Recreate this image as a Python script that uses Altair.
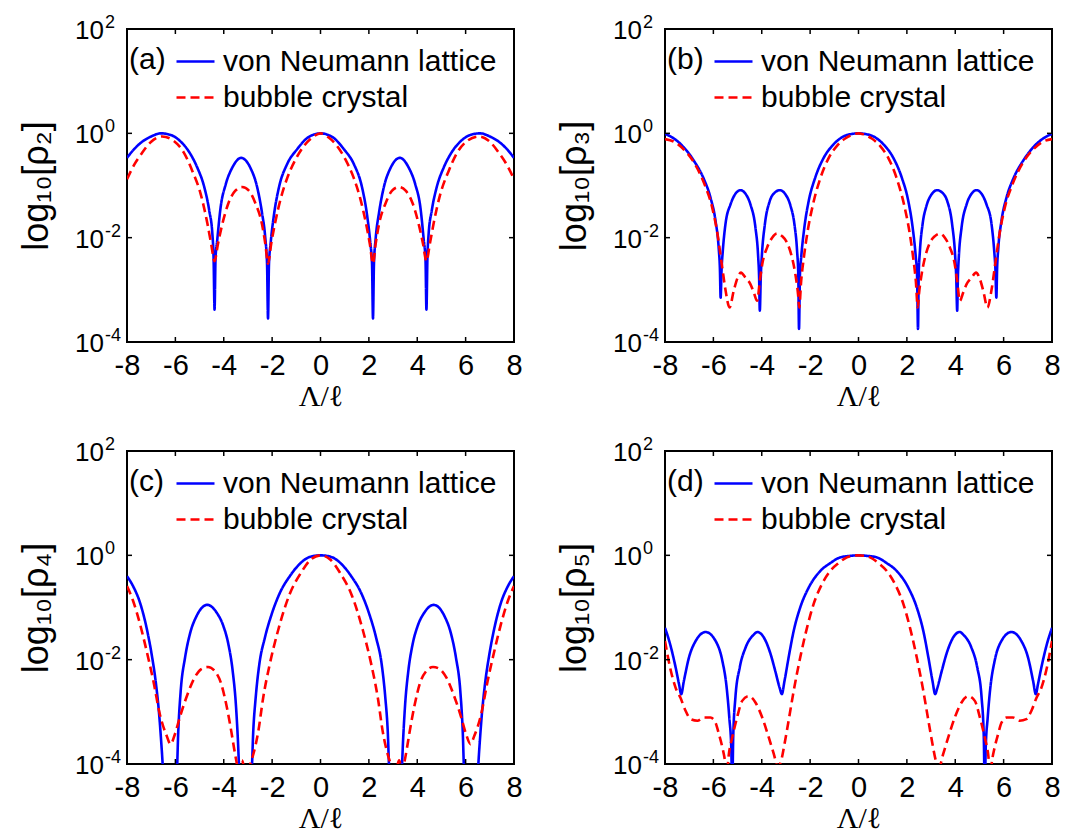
import altair as alt
import pandas as pd

# ---------------- data (log10 of rho) ----------------
SERIES = ["von Neumann lattice", "bubble crystal"]
COLORS = ["#0000ff", "#ff0000"]
DASHES = [[1, 0], [9, 5]]
PANEL_TAGS = ["(a)", "(b)", "(c)", "(d)"]
Y_TITLES = ["log₁₀[ρ₂]", "log₁₀[ρ₃]", "log₁₀[ρ₄]", "log₁₀[ρ₅]"]
X_TICKS = [-8, -6, -4, -2, 0, 2, 4, 6, 8]
Y_TICKS = [2, 0, -2, -4]
Y_BASE = ["10", "10", "10", "10"]
Y_EXP = ["2", "0", "-2", "-4"]

# panel (a)
XA_VN = [-8.00, -7.70, -7.40, -7.00, -6.60, -6.20, -5.80, -5.40, -5.10, -4.80, -4.60, -4.47, -4.42, -4.38, -4.34, -4.27, -4.13, -3.92, -3.65, -3.28, -2.90, -2.62, -2.42, -2.28, -2.21, -2.17, -2.13, -2.06, -1.92, -1.72, -1.38, -0.96, -0.55, -0.25, 0.00,
         0.25, 0.55, 0.96, 1.38, 1.72, 1.92, 2.06, 2.13, 2.17, 2.21, 2.28, 2.42, 2.62, 2.90, 3.28, 3.65, 3.92, 4.13, 4.27, 4.34, 4.38, 4.42, 4.47, 4.60, 4.80, 5.10, 5.40, 5.80, 6.20, 6.60, 7.00, 7.40, 7.70, 8.00]
YA_VN = [-0.47, -0.30, -0.17, -0.06, 0.00, -0.03, -0.15, -0.38, -0.65, -1.04, -1.48, -1.93, -2.40, -3.38, -2.40, -2.05, -1.42, -0.98, -0.66, -0.47, -0.66, -1.03, -1.52, -2.02, -2.50, -3.55, -2.50, -2.10, -1.55, -1.04, -0.59, -0.30, -0.09, -0.02, 0.00,
         -0.02, -0.09, -0.30, -0.59, -1.04, -1.55, -2.10, -2.50, -3.55, -2.50, -2.02, -1.52, -1.03, -0.66, -0.47, -0.66, -0.98, -1.42, -2.05, -2.40, -3.38, -2.40, -1.93, -1.48, -1.04, -0.65, -0.38, -0.15, -0.03, 0.00, -0.06, -0.17, -0.30, -0.47]
XA_BC = [-8.00, -7.70, -7.40, -7.00, -6.55, -6.05, -5.65, -5.30, -4.95, -4.68, -4.52, -4.38, -4.24, -4.06, -3.80, -3.52, -3.24, -2.96, -2.70, -2.42, -2.28, -2.17, -2.04, -1.86, -1.65, -1.37, -1.03, -0.68, -0.34, 0.00,
         0.34, 0.68, 1.03, 1.37, 1.65, 1.86, 2.04, 2.17, 2.28, 2.42, 2.70, 2.96, 3.24, 3.52, 3.80, 4.06, 4.24, 4.38, 4.52, 4.68, 4.95, 5.30, 5.65, 6.05, 6.55, 7.00, 7.40, 7.70, 8.00]
YA_BC = [-0.88, -0.60, -0.39, -0.16, -0.06, -0.15, -0.37, -0.72, -1.17, -1.72, -2.12, -2.45, -2.12, -1.74, -1.33, -1.10, -1.03, -1.10, -1.33, -1.74, -2.12, -2.50, -2.12, -1.68, -1.26, -0.85, -0.50, -0.24, -0.08, 0.00,
         -0.08, -0.24, -0.50, -0.85, -1.26, -1.68, -2.12, -2.50, -2.12, -1.74, -1.33, -1.10, -1.03, -1.10, -1.33, -1.74, -2.12, -2.45, -2.12, -1.72, -1.17, -0.72, -0.37, -0.15, -0.06, -0.16, -0.39, -0.60, -0.88]

# panel (b)
XB_VN = [-8.00, -7.63, -7.22, -6.80, -6.39, -6.12, -5.91, -5.78, -5.73, -5.70, -5.66, -5.61, -5.50, -5.29, -5.09, -4.88, -4.67, -4.47, -4.26, -4.15, -4.11, -4.08, -4.04, -4.00, -3.87, -3.67, -3.47, -3.25, -3.02, -2.81, -2.65, -2.54, -2.49, -2.46, -2.42, -2.37, -2.24, -2.06, -1.79, -1.44, -1.03, -0.62, -0.25, 0.00,
         0.25, 0.62, 1.03, 1.44, 1.79, 2.06, 2.24, 2.37, 2.42, 2.46, 2.49, 2.54, 2.65, 2.81, 3.02, 3.25, 3.47, 3.67, 3.87, 4.00, 4.04, 4.08, 4.11, 4.15, 4.26, 4.47, 4.67, 4.88, 5.09, 5.29, 5.50, 5.61, 5.66, 5.70, 5.73, 5.78, 5.91, 6.12, 6.39, 6.80, 7.22, 7.63, 8.00]
YB_VN = [-0.01, -0.10, -0.27, -0.53, -0.88, -1.23, -1.68, -2.20, -2.60, -3.15, -2.60, -2.25, -1.74, -1.36, -1.16, -1.09, -1.16, -1.36, -1.81, -2.35, -2.75, -3.40, -2.75, -2.38, -1.74, -1.30, -1.14, -1.09, -1.17, -1.39, -1.74, -2.25, -2.70, -3.75, -2.70, -2.38, -1.81, -1.30, -0.85, -0.47, -0.21, -0.06, -0.01, 0.00,
         -0.01, -0.06, -0.21, -0.47, -0.85, -1.30, -1.81, -2.38, -2.70, -3.75, -2.70, -2.25, -1.74, -1.39, -1.17, -1.09, -1.14, -1.30, -1.74, -2.38, -2.75, -3.40, -2.75, -2.35, -1.81, -1.36, -1.16, -1.09, -1.16, -1.36, -1.74, -2.25, -2.60, -3.15, -2.60, -2.20, -1.68, -1.23, -0.88, -0.53, -0.27, -0.10, -0.01]
XB_BC = [-8.00, -7.63, -7.22, -6.80, -6.39, -6.05, -5.84, -5.64, -5.50, -5.33, -5.16, -5.00, -4.86, -4.67, -4.47, -4.33, -4.19, -4.08, -3.98, -3.78, -3.57, -3.37, -3.16, -2.96, -2.75, -2.61, -2.50, -2.45, -2.37, -2.26, -2.10, -1.88, -1.57, -1.23, -0.89, -0.55, -0.21, 0.00,
         0.21, 0.55, 0.89, 1.23, 1.57, 1.88, 2.10, 2.26, 2.37, 2.45, 2.50, 2.61, 2.75, 2.96, 3.16, 3.37, 3.57, 3.78, 3.98, 4.08, 4.19, 4.33, 4.47, 4.67, 4.86, 5.00, 5.16, 5.33, 5.50, 5.64, 5.84, 6.05, 6.39, 6.80, 7.22, 7.63, 8.00]
YB_BC = [-0.11, -0.16, -0.31, -0.56, -0.95, -1.42, -1.90, -2.55, -3.00, -3.34, -3.02, -2.77, -2.67, -2.77, -2.89, -3.05, -3.21, -2.83, -2.51, -2.19, -2.00, -1.92, -1.97, -2.09, -2.38, -2.70, -3.08, -3.34, -2.83, -2.38, -1.87, -1.36, -0.85, -0.47, -0.24, -0.10, -0.02, 0.00,
         -0.02, -0.10, -0.24, -0.47, -0.85, -1.36, -1.87, -2.38, -2.83, -3.34, -3.08, -2.70, -2.38, -2.09, -1.97, -1.92, -2.00, -2.19, -2.51, -2.83, -3.21, -3.05, -2.89, -2.77, -2.67, -2.77, -3.02, -3.34, -3.00, -2.55, -1.90, -1.42, -0.95, -0.56, -0.31, -0.16, -0.11]

# panel (c)
XC_VN = [-8.00, -7.75, -7.46, -7.19, -6.98, -6.80, -6.66, -6.57, -6.45, -6.20, -5.95, -5.88, -5.78, -5.60, -5.40, -5.12, -4.68, -4.29, -4.02, -3.81, -3.63, -3.50, -3.42, -3.35, -3.10, -2.85, -2.78, -2.68, -2.53, -2.30, -2.02, -1.68, -1.27, -0.85, -0.44, 0.00,
         0.44, 0.85, 1.27, 1.68, 2.02, 2.30, 2.53, 2.68, 2.78, 2.85, 3.10, 3.35, 3.42, 3.50, 3.63, 3.81, 4.02, 4.29, 4.68, 5.12, 5.40, 5.60, 5.78, 5.88, 5.95, 6.20, 6.45, 6.57, 6.66, 6.80, 6.98, 7.19, 7.46, 7.75, 8.00]
YC_VN = [-0.40, -0.59, -0.91, -1.39, -1.90, -2.47, -3.11, -3.68, -4.50, -5.00, -4.30, -3.37, -2.60, -1.96, -1.51, -1.16, -0.95, -1.10, -1.35, -1.70, -2.22, -2.85, -3.49, -4.20, -5.00, -4.20, -3.37, -2.73, -2.09, -1.58, -1.13, -0.72, -0.40, -0.16, -0.03, 0.00,
         -0.03, -0.16, -0.40, -0.72, -1.13, -1.58, -2.09, -2.73, -3.37, -4.20, -5.00, -4.20, -3.49, -2.85, -2.22, -1.70, -1.35, -1.10, -0.95, -1.16, -1.51, -1.96, -2.60, -3.37, -4.30, -5.00, -4.50, -3.68, -3.11, -2.47, -1.90, -1.39, -0.91, -0.59, -0.40]
XC_BC = [-8.00, -7.75, -7.46, -7.19, -6.91, -6.64, -6.36, -6.20, -6.02, -5.82, -5.55, -5.20, -4.93, -4.65, -4.37, -4.10, -3.90, -3.69, -3.58, -3.48, -3.38, -3.25, -3.10, -2.95, -2.80, -2.57, -2.37, -2.10, -1.76, -1.28, -0.80, -0.40, 0.00,
         0.40, 0.80, 1.28, 1.76, 2.10, 2.37, 2.57, 2.80, 2.95, 3.10, 3.25, 3.38, 3.48, 3.58, 3.69, 3.90, 4.10, 4.37, 4.65, 4.93, 5.20, 5.55, 5.82, 6.02, 6.20, 6.36, 6.64, 6.91, 7.19, 7.46, 7.75, 8.00]
YC_BC = [-0.59, -0.87, -1.32, -1.83, -2.41, -3.05, -3.46, -3.62, -3.43, -3.11, -2.73, -2.34, -2.18, -2.14, -2.22, -2.47, -2.85, -3.37, -3.68, -3.94, -4.15, -3.93, -4.15, -4.05, -3.85, -3.37, -2.73, -2.09, -1.45, -0.75, -0.33, -0.08, 0.00,
         -0.08, -0.33, -0.75, -1.45, -2.09, -2.73, -3.37, -3.85, -4.05, -4.15, -3.93, -4.15, -3.94, -3.68, -3.37, -2.85, -2.47, -2.22, -2.14, -2.18, -2.34, -2.73, -3.11, -3.43, -3.62, -3.46, -3.05, -2.41, -1.83, -1.32, -0.87, -0.59]

# panel (d)
XD_VN = [-8.00, -7.79, -7.56, -7.42, -7.33, -7.22, -7.01, -6.73, -6.32, -5.91, -5.63, -5.45, -5.34, -5.26, -5.22, -5.18, -5.09, -4.91, -4.67, -4.33, -4.19, -3.92, -3.65, -3.44, -3.26, -3.17, -3.06, -2.89, -2.68, -2.41, -2.06, -1.58, -1.17, -0.76, -0.34, 0.00,
         0.34, 0.76, 1.17, 1.58, 2.06, 2.41, 2.68, 2.89, 3.06, 3.17, 3.26, 3.44, 3.65, 3.92, 4.19, 4.33, 4.67, 4.91, 5.09, 5.18, 5.22, 5.26, 5.34, 5.45, 5.63, 5.91, 6.32, 6.73, 7.01, 7.22, 7.33, 7.42, 7.56, 7.79, 8.00]
YD_VN = [-1.39, -1.70, -2.15, -2.47, -2.66, -2.41, -1.96, -1.64, -1.47, -1.64, -2.02, -2.54, -3.12, -3.69, -4.50, -3.49, -2.73, -2.15, -1.77, -1.52, -1.47, -1.57, -1.87, -2.22, -2.54, -2.66, -2.41, -1.96, -1.45, -1.00, -0.62, -0.30, -0.15, -0.04, -0.01, 0.00,
         -0.01, -0.04, -0.15, -0.30, -0.62, -1.00, -1.45, -1.96, -2.41, -2.66, -2.54, -2.22, -1.87, -1.57, -1.47, -1.52, -1.77, -2.15, -2.73, -3.49, -4.50, -3.69, -3.12, -2.54, -2.02, -1.64, -1.47, -1.64, -1.96, -2.41, -2.66, -2.47, -2.15, -1.70, -1.39]
XD_BC = [-8.00, -7.79, -7.56, -7.36, -7.15, -6.94, -6.66, -6.39, -6.12, -5.91, -5.77, -5.63, -5.52, -5.45, -5.36, -5.22, -5.02, -4.81, -4.54, -4.26, -3.98, -3.71, -3.50, -3.34, -3.20, -3.06, -2.89, -2.68, -2.41, -2.13, -1.86, -1.52, -1.17, -0.83, -0.48, -0.27, 0.00,
         0.27, 0.48, 0.83, 1.17, 1.52, 1.86, 2.13, 2.41, 2.68, 2.89, 3.06, 3.20, 3.34, 3.50, 3.71, 3.98, 4.26, 4.54, 4.81, 5.02, 5.22, 5.36, 5.45, 5.52, 5.63, 5.77, 5.91, 6.12, 6.39, 6.66, 6.94, 7.15, 7.36, 7.56, 7.79, 8.00]
YD_BC = [-1.64, -2.15, -2.54, -2.73, -2.98, -3.14, -3.17, -3.11, -3.11, -3.21, -3.43, -3.68, -3.94, -4.20, -3.81, -3.49, -3.11, -2.79, -2.70, -2.82, -3.11, -3.49, -3.81, -4.05, -3.94, -3.62, -3.17, -2.60, -1.96, -1.39, -0.94, -0.56, -0.30, -0.15, -0.04, -0.01, 0.00,
         -0.01, -0.04, -0.15, -0.30, -0.56, -0.94, -1.39, -1.96, -2.60, -3.17, -3.62, -3.94, -4.05, -3.81, -3.49, -3.11, -2.82, -2.70, -2.79, -3.11, -3.49, -3.81, -4.20, -3.94, -3.68, -3.43, -3.21, -3.11, -3.11, -3.17, -3.14, -2.98, -2.73, -2.54, -2.15, -1.64]

PANELS = [
    (XA_VN, YA_VN, XA_BC, YA_BC),
    (XB_VN, YB_VN, XB_BC, YB_BC),
    (XC_VN, YC_VN, XC_BC, YC_BC),
    (XD_VN, YD_VN, XD_BC, YD_BC),
]

# ---------------- styling ----------------
FONT = "Liberation Sans"
SERIF = "Liberation Serif"
W, H = 387, 313
TICK_LEN = 5


def build_panel(k):
    xv, yv, xb, yb = PANELS[k]
    df = pd.DataFrame({
        "x": xv + xb,
        "y": yv + yb,
        "series": [SERIES[0]] * len(xv) + [SERIES[1]] * len(xb),
    })
    xscale = alt.Scale(domain=[-8, 8], nice=False, zero=False)
    yscale = alt.Scale(domain=[-4, 2], nice=False, zero=False)

    xaxis = alt.Axis(
        values=X_TICKS,
        labelExpr="(datum.value < 0 ? '-' : '') + abs(datum.value)",
        labelFont=FONT, labelFontSize=29, labelColor="black", labelPadding=9,
        labelFlush=False, labelOverlap=False,
        ticks=False, tickSize=0, domain=False, grid=False,
        title="Λ/ℓ", titleFont=SERIF, titleFontSize=30, titleFontWeight="normal",
        titleColor="black", titlePadding=1,
    )
    yaxis = alt.Axis(
        values=Y_TICKS, labels=False, ticks=False, tickSize=0, domain=False, grid=False,
        title=Y_TITLES[k], titleFont=FONT, titleFontSize=36, titleFontWeight="normal",
        titleColor="black", titlePadding=72,
    )

    legend = alt.Legend(
        orient="none", legendX=48, legendY=12, title=None,
        labelFont=FONT, labelFontSize=30, labelColor="black", labelLimit=600,
        labelOffset=7, symbolType="stroke", symbolSize=1444,
        symbolStrokeWidth=2.6, rowPadding=0, padding=0,
    )

    lines = alt.Chart(df).mark_line(strokeWidth=2.6, clip=True, interpolate="monotone").encode(
        x=alt.X("x:Q", scale=xscale, axis=xaxis),
        y=alt.Y("y:Q", scale=yscale, axis=yaxis),
        color=alt.Color("series:N", scale=alt.Scale(domain=SERIES, range=COLORS), legend=legend),
        strokeDash=alt.StrokeDash("series:N", scale=alt.Scale(domain=SERIES, range=DASHES), legend=legend),
    )

    ylab = pd.DataFrame({"v": Y_TICKS, "base": Y_BASE, "exp": Y_EXP})
    base_txt = alt.Chart(ylab).mark_text(
        align="right", baseline="middle", font=FONT, fontSize=26, dy=2, color="black"
    ).encode(y=alt.Y("v:Q", scale=yscale, axis=yaxis), x=alt.value(-23), text="base:N")
    exp_txt = alt.Chart(ylab).mark_text(
        align="left", baseline="middle", font=FONT, fontSize=18, dy=-6, color="black"
    ).encode(y=alt.Y("v:Q", scale=yscale, axis=yaxis), x=alt.value(-22), text="exp:N")

    xt = pd.DataFrame({"t": X_TICKS[1:-1]})
    yt = pd.DataFrame({"t": Y_TICKS[1:-1]})
    rule = dict(color="black", strokeWidth=1.5)
    tick_b = alt.Chart(xt).mark_rule(**rule).encode(
        x=alt.X("t:Q", scale=xscale, axis=xaxis), y=alt.value(H), y2=alt.value(H - TICK_LEN))
    tick_t = alt.Chart(xt).mark_rule(**rule).encode(
        x=alt.X("t:Q", scale=xscale, axis=xaxis), y=alt.value(0), y2=alt.value(TICK_LEN))
    tick_l = alt.Chart(yt).mark_rule(**rule).encode(
        y=alt.Y("t:Q", scale=yscale, axis=yaxis), x=alt.value(0), x2=alt.value(TICK_LEN))
    tick_r = alt.Chart(yt).mark_rule(**rule).encode(
        y=alt.Y("t:Q", scale=yscale, axis=yaxis), x=alt.value(W), x2=alt.value(W - TICK_LEN))

    tag = alt.Chart(pd.DataFrame({"tag": [PANEL_TAGS[k]]})).mark_text(
        align="left", baseline="middle", font=FONT, fontSize=30, color="black"
    ).encode(text="tag:N", x=alt.value(2), y=alt.value(31))

    return alt.layer(lines, tick_b, tick_t, tick_l, tick_r, base_txt, exp_txt, tag).properties(
        width=W, height=H)


chart = alt.concat(
    *[build_panel(k) for k in range(4)], columns=2, spacing={"row": 23, "column": 31}
).resolve_scale(
    color="independent", strokeDash="independent"
).resolve_legend(
    color="independent", strokeDash="independent"
).properties(
    padding={"left": 17, "top": 13, "right": 0, "bottom": 0},
    background="white",
).configure_view(
    stroke="black", strokeWidth=2
)

chart.save("out.html", embed_options={"renderer": "svg", "actions": False})
